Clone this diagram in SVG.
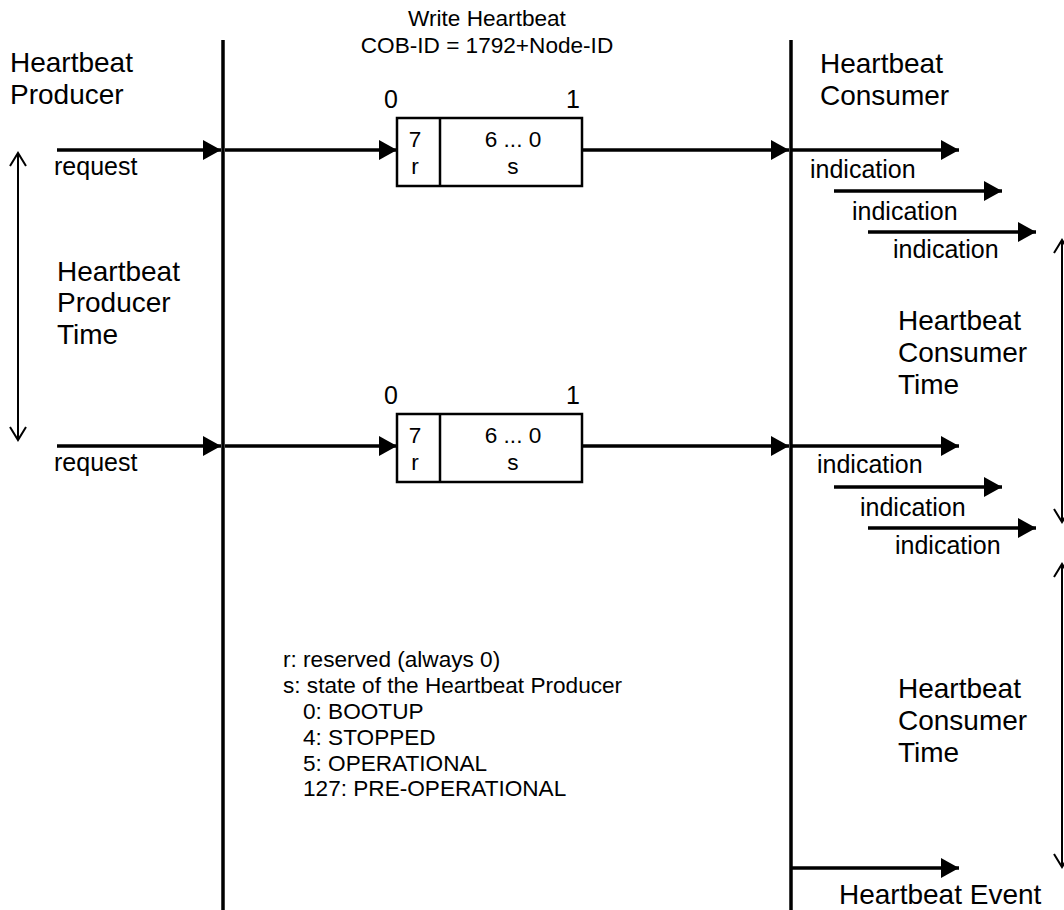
<svg xmlns="http://www.w3.org/2000/svg" width="1064" height="910" viewBox="0 0 1064 910">
<style>
text{font-family:"Liberation Sans",Arial,sans-serif;fill:#000}
.big{font-size:28px}
.lbl{font-size:25px}
.sm{font-size:22.6px}
.bit{font-size:25px}
.ln{stroke:#000;stroke-width:3.5;fill:none}
.msg{stroke:#000;stroke-width:3.5;fill:none;marker-end:url(#ah)}
.box{fill:#fff;stroke:#000;stroke-width:2.5}
.dbl{stroke:#000;stroke-width:2;fill:none;marker-start:url(#oa);marker-end:url(#oa)}
</style>
<defs>
<marker id="ah" markerUnits="userSpaceOnUse" markerWidth="18" markerHeight="20" refX="18" refY="10" orient="auto" viewBox="0 0 18 20">
<path d="M0,0 L18,10 L0,20 z" fill="#000"/>
</marker>
<marker id="oa" markerUnits="userSpaceOnUse" markerWidth="20" markerHeight="20" refX="15" refY="10" orient="auto-start-reverse" viewBox="0 0 20 20">
<path d="M2,2 L15,10 L2,18" fill="none" stroke="#000" stroke-width="2"/>
</marker>
</defs>

<g id="lifelines">
<line class="ln" x1="223" y1="40" x2="223" y2="910"/>
<line class="ln" x1="791" y1="40" x2="791" y2="910"/>
</g>

<g id="labels">
<text class="big" x="10" y="72">Heartbeat</text>
<text class="big" x="10" y="104">Producer</text>
<text class="big" x="820" y="73">Heartbeat</text>
<text class="big" x="820" y="105">Consumer</text>
<text class="sm" x="487" y="26" text-anchor="middle">Write Heartbeat</text>
<text class="sm" x="487" y="53" text-anchor="middle">COB-ID = 1792+Node-ID</text>
<text class="big" x="57" y="281">Heartbeat</text>
<text class="big" x="57" y="312">Producer</text>
<text class="big" x="57" y="344">Time</text>
<text class="big" x="898" y="330">Heartbeat</text>
<text class="big" x="898" y="362">Consumer</text>
<text class="big" x="898" y="394">Time</text>
<text class="big" x="898" y="698">Heartbeat</text>
<text class="big" x="898" y="730">Consumer</text>
<text class="big" x="898" y="762">Time</text>
<text class="big" x="839" y="904">Heartbeat Event</text>
</g>

<g id="frame1">
<rect class="box" x="397" y="118" width="185" height="68"/>
<line stroke="#000" stroke-width="2.5" x1="440" y1="118" x2="440" y2="186"/>
<text class="bit" x="391" y="108" text-anchor="middle">0</text>
<text class="bit" x="573" y="108" text-anchor="middle">1</text>
<text class="sm" x="415" y="147" text-anchor="middle">7</text>
<text class="sm" x="415" y="174" text-anchor="middle">r</text>
<text class="sm" x="513" y="147" text-anchor="middle">6 ... 0</text>
<text class="sm" x="513" y="174" text-anchor="middle">s</text>
</g>

<g id="frame2">
<rect class="box" x="397" y="414" width="185" height="68"/>
<line stroke="#000" stroke-width="2.5" x1="440" y1="414" x2="440" y2="482"/>
<text class="bit" x="391" y="404" text-anchor="middle">0</text>
<text class="bit" x="573" y="404" text-anchor="middle">1</text>
<text class="sm" x="415" y="443" text-anchor="middle">7</text>
<text class="sm" x="415" y="470" text-anchor="middle">r</text>
<text class="sm" x="513" y="443" text-anchor="middle">6 ... 0</text>
<text class="sm" x="513" y="470" text-anchor="middle">s</text>
</g>

<g id="legend">
<text class="sm" x="283" y="667">r: reserved (always 0)</text>
<text class="sm" x="283" y="693">s: state of the Heartbeat Producer</text>
<text class="sm" x="303" y="719">0: BOOTUP</text>
<text class="sm" x="303" y="745">4: STOPPED</text>
<text class="sm" x="303" y="771">5: OPERATIONAL</text>
<text class="sm" x="303" y="796">127: PRE-OPERATIONAL</text>
</g>

<g id="connectors">
<line class="msg" x1="57" y1="150" x2="221" y2="150"/>
<line class="msg" x1="225" y1="150" x2="397" y2="150"/>
<line class="msg" x1="582" y1="150" x2="789" y2="150"/>
<line class="msg" x1="791" y1="150" x2="959" y2="150"/>
<line class="msg" x1="834" y1="191" x2="1002" y2="191"/>
<line class="msg" x1="868" y1="232" x2="1036" y2="232"/>

<line class="msg" x1="57" y1="446" x2="221" y2="446"/>
<line class="msg" x1="225" y1="446" x2="397" y2="446"/>
<line class="msg" x1="582" y1="446" x2="789" y2="446"/>
<line class="msg" x1="791" y1="446" x2="959" y2="446"/>
<line class="msg" x1="834" y1="487" x2="1002" y2="487"/>
<line class="msg" x1="868" y1="528" x2="1036" y2="528"/>

<line class="msg" x1="791" y1="868" x2="959" y2="868"/>

<line class="dbl" x1="18" y1="153" x2="18" y2="440"/>
<line class="dbl" x1="1062" y1="240" x2="1062" y2="522"/>
<line class="dbl" x1="1062" y1="564" x2="1062" y2="867"/>

<text class="lbl" x="54" y="175">request</text>
<text class="lbl" x="54" y="471">request</text>
<text class="lbl" x="810" y="178">indication</text>
<text class="lbl" x="852" y="220">indication</text>
<text class="lbl" x="893" y="258">indication</text>
<text class="lbl" x="817" y="473">indication</text>
<text class="lbl" x="860" y="516">indication</text>
<text class="lbl" x="895" y="554">indication</text>
</g>
</svg>
